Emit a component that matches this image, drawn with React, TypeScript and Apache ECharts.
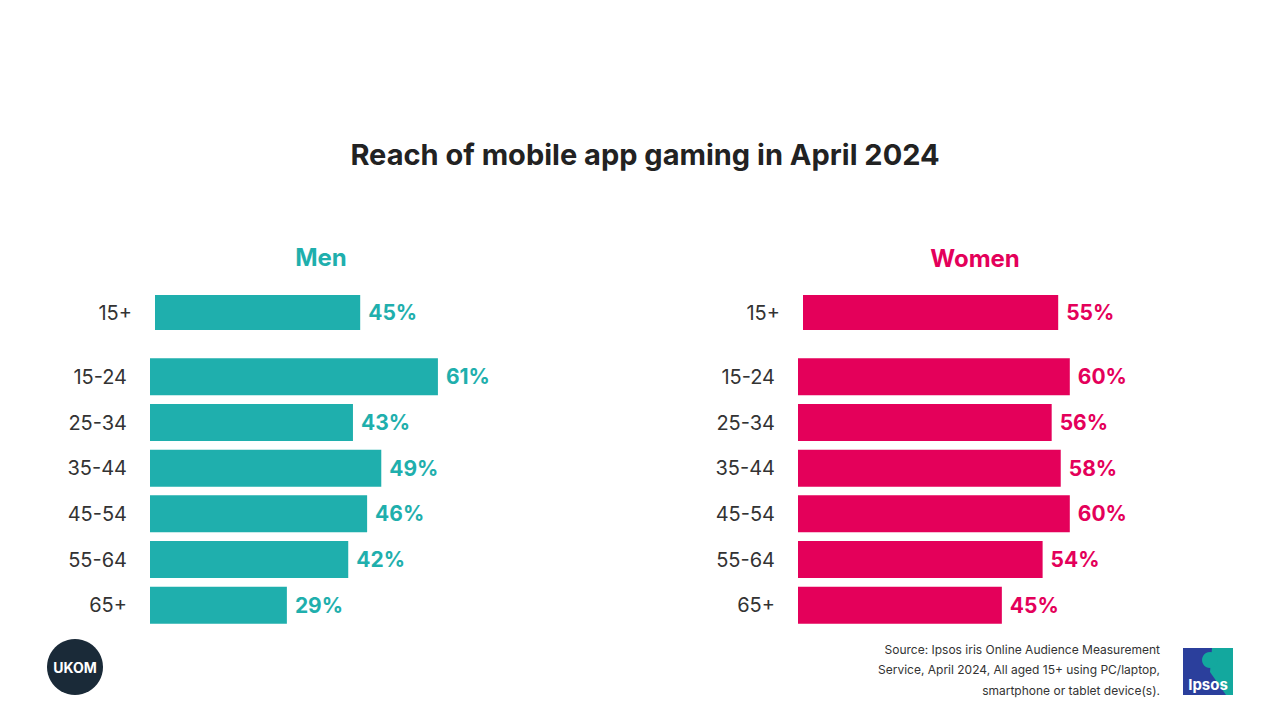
import React, { useEffect, useRef } from "react";
import * as echarts from "echarts";

const title = "Reach of mobile app gaming in April 2024";
const ageGroups = ["15-24", "25-34", "35-44", "45-54", "55-64", "65+"];
const totalLabel = ["15+"];
const menTotal = [45];
const womenTotal = [55];
const menByAge = [61, 43, 49, 46, 42, 29];
const womenByAge = [60, 56, 58, 60, 54, 45];
const sourceLines = [
  "Source: Ipsos iris Online Audience Measurement",
  "Service, April 2024, All aged 15+ using PC/laptop,",
  "smartphone or tablet device(s).",
];

const TEAL = "#1fafad";
const PINK = "#e4005a";
const FONT = "Inter, Roboto, 'Noto Sans', sans-serif";

export default function App() {
  const ref = useRef<HTMLDivElement>(null);
  useEffect(() => {
    if (!ref.current) return;
    const chart = echarts.init(ref.current, null, { renderer: "svg" });
    const grids = [
      { left: 155, width: 456, top: 295, height: 35 },
      { left: 150, width: 472, top: 354, height: 274 },
      { left: 803, width: 464, top: 295, height: 35 },
      { left: 798, width: 453, top: 354, height: 274 },
    ];
    const xAxes = grids.map((_, i) => ({
      type: "value",
      gridIndex: i,
      min: 0,
      max: 100,
      show: false,
    }));
    const yAxes = grids.map((_, i) => ({
      type: "category",
      gridIndex: i,
      inverse: true,
      data: i % 2 === 0 ? totalLabel : ageGroups,
      axisLine: { show: false },
      axisTick: { show: false },
      axisLabel: {
        margin: 23,
        fontSize: 20,
        color: "#333333",
        fontFamily: FONT,
        padding: [3, 0, 0, 0],
      },
    }));
    const mk = (i: number, data: number[], color: string, total: boolean) => ({
      type: "bar",
      xAxisIndex: i,
      yAxisIndex: i,
      data,
      barWidth: total ? 35 : 37,
      itemStyle: { color },
      label: {
        show: true,
        position: "right",
        distance: 8,
        formatter: "{c}%",
        fontSize: 21,
        fontWeight: "bold",
        color,
        fontFamily: FONT,
        padding: [2, 0, 0, 0],
      },
    });
    chart.setOption({
      animation: false,
      backgroundColor: "#ffffff",
      title: [
        {
          text: title,
          left: 640,
          top: 135,
          textAlign: "center",
          textStyle: { fontSize: 29, fontWeight: "bold", color: "#222222", fontFamily: FONT },
        },
        {
          text: "Men",
          left: 316,
          top: 240,
          textAlign: "center",
          textStyle: { fontSize: 24, fontWeight: "bold", color: TEAL, fontFamily: FONT },
        },
        {
          text: "Women",
          left: 970,
          top: 241,
          textAlign: "center",
          textStyle: { fontSize: 24, fontWeight: "bold", color: PINK, fontFamily: FONT },
        },
      ],
      grid: grids,
      xAxis: xAxes,
      yAxis: yAxes,
      series: [
        mk(0, menTotal, TEAL, true),
        mk(1, menByAge, TEAL, false),
        mk(2, womenTotal, PINK, true),
        mk(3, womenByAge, PINK, false),
      ],
      graphic: [
        {
          type: "circle",
          shape: { cx: 75, cy: 667, r: 28 },
          style: { fill: "#1a2a38" },
        },
        {
          type: "text",
          x: 75,
          y: 667,
          style: {
            text: "UKOM",
            fill: "#ffffff",
            font: `bold 14px ${FONT}`,
            align: "center",
            verticalAlign: "middle",
          },
        },
        ...sourceLines.map((t, i) => ({
          type: "text",
          x: 1160,
          y: 649 + i * 20.5,
          style: {
            text: t,
            fill: "#333333",
            font: `12px ${FONT}`,
            align: "right",
            verticalAlign: "middle",
          },
        })),
        {
          type: "rect",
          shape: { x: 1183, y: 648, width: 50, height: 47 },
          style: { fill: "#2b3f9c" },
        },
        {
          type: "polygon",
          shape: { points: [[1212, 648], [1233, 648], [1233, 695], [1226, 695], [1210, 672]] },
          style: { fill: "#13a89e" },
        },
        {
          type: "circle",
          shape: { cx: 1210, cy: 660, r: 8 },
          style: { fill: "#13a89e" },
        },
        {
          type: "text",
          x: 1208,
          y: 684,
          style: {
            text: "Ipsos",
            fill: "#ffffff",
            font: `bold 15px ${FONT}`,
            align: "center",
            verticalAlign: "middle",
          },
        },
      ],
    });
    return () => chart.dispose();
  }, []);
  return (
    <div
      ref={ref}
      style={{ position: "fixed", left: 0, top: 0, width: 1280, height: 720 }}
    />
  );
}
